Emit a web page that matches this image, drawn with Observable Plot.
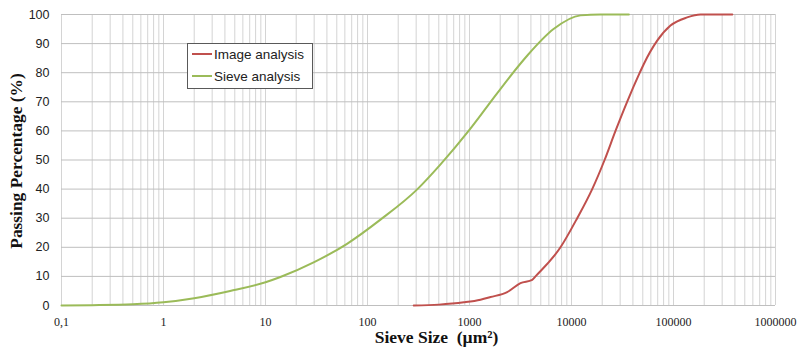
<!DOCTYPE html>
<html><head><meta charset="utf-8">
<script src="https://cdn.jsdelivr.net/npm/d3@7"></script>
<script src="https://cdn.jsdelivr.net/npm/@observablehq/plot@0.6"></script>
<style>
body{margin:0;background:#fff;}
#wrap{position:relative;width:808px;height:353px;}
#legend{position:absolute;left:187px;top:43px;width:126px;height:46px;border:1px solid #595959;background:#fff;font:13.5px "Liberation Sans",Arial,sans-serif;color:#222;box-sizing:border-box;}
#legend .it{position:absolute;left:4px;height:16px;line-height:16px;white-space:nowrap;}
#legend .sw{display:inline-block;width:20px;height:2px;vertical-align:middle;margin-right:2px;position:relative;top:-1px;}
</style>
</head><body>
<div id="wrap"></div>
<script>
const sieveSize = [0.1, 0.2, 0.5, 1, 2, 4.5, 10, 14, 30, 63, 134, 309, 520, 980, 1500, 2410, 3710, 6670, 12240, 19200, 36500];
const sievePass = [0, 0.1, 0.4, 1.1, 2.5, 5.0, 8.0, 9.8, 14.9, 21.2, 29.5, 40.0, 48.5, 60.0, 68.5, 78.0, 86.0, 95.0, 99.7, 100, 100];
const imageSize = [284, 500, 880, 1282, 1607, 2340, 3162, 4120, 4436, 7800, 11370, 15960, 21100, 27000, 35100, 46700, 51200, 69200, 93400, 136000, 184000, 377000];
const imagePass = [0, 0.3, 1.1, 2.0, 2.9, 4.6, 7.7, 8.8, 10, 20, 30, 40, 50, 60, 70, 80, 83, 91, 96.2, 99, 100, 100];
const seriesNames = ["Image analysis", "Sieve analysis"];
const seriesColors = ["#c0504d", "#9bbb59"];
const xTicks = [0.1, 1, 10, 100, 1000, 10000, 100000, 1000000];
const xTickLabels = ["0,1", "1", "10", "100", "1000", "10000", "100000", "1000000"];
const yTicks = [0, 10, 20, 30, 40, 50, 60, 70, 80, 90, 100];
const xTitle = "Sieve Size\u00a0 (µm²)";
const yTitle = "Passing Percentage (%)";

const minorTicks = [];
for (let k = -1; k <= 5; k++) for (let m = 1; m <= 9; m++) minorTicks.push(m * Math.pow(10, k));
minorTicks.push(1e6);

const imageData = imageSize.map((s, i) => ({size: s, pass: imagePass[i]}));
const sieveData = sieveSize.map((s, i) => ({size: s, pass: sievePass[i]}));

const chart = Plot.plot({
  width: 808, height: 353,
  marginLeft: 61, marginRight: 33, marginTop: 14, marginBottom: 48,
  x: {type: "log", domain: [0.1, 1e6]},
  y: {domain: [0, 100]},
  style: {background: "white", overflow: "visible"},
  marks: [
    Plot.ruleX(minorTicks, {stroke: "#d4d4d4", strokeWidth: 1}),
    Plot.ruleY(yTicks, {stroke: "#bfbfbf", strokeWidth: 1}),
    Plot.axisY({ticks: yTicks, tickSize: 0, tickPadding: 12, label: null, fontSize: 12.5, fontFamily: "Liberation Sans, Arial, sans-serif", fill: "#222"}),
    Plot.axisX({ticks: xTicks, tickFormat: d => xTickLabels[xTicks.indexOf(d)], tickSize: 0, tickPadding: 11.5, label: null, fontSize: 12, fontFamily: "Liberation Serif, Times New Roman, serif", fill: "#222"}),
    Plot.text([yTitle], {frameAnchor: "left", textAnchor: "middle", dx: -45, dy: 1, rotate: -90, fontSize: 17.4, fontWeight: "bold", fontFamily: "Liberation Serif, Times New Roman, serif", fill: "#111"}),
    Plot.text([xTitle], {frameAnchor: "bottom", dy: 37.5, dx: 18, fontSize: 17.5, fontWeight: "bold", fontFamily: "Liberation Serif, Times New Roman, serif", fill: "#111"}),
    Plot.line(sieveData, {x: "size", y: "pass", stroke: seriesColors[1], strokeWidth: 2, curve: "monotone-x"}),
    Plot.line(imageData, {x: "size", y: "pass", stroke: seriesColors[0], strokeWidth: 2, curve: "monotone-x"})
  ]
});
const wrap = document.getElementById("wrap");
wrap.appendChild(chart);
const lg = document.createElement("div");
lg.id = "legend";
seriesNames.forEach((n, i) => {
  const it = document.createElement("div");
  it.className = "it";
  it.style.top = (3 + i * 22) + "px";
  it.innerHTML = `<span class="sw" style="background:${seriesColors[i]}"></span>${n}`;
  lg.appendChild(it);
});
wrap.appendChild(lg);
</script>
</body></html>
